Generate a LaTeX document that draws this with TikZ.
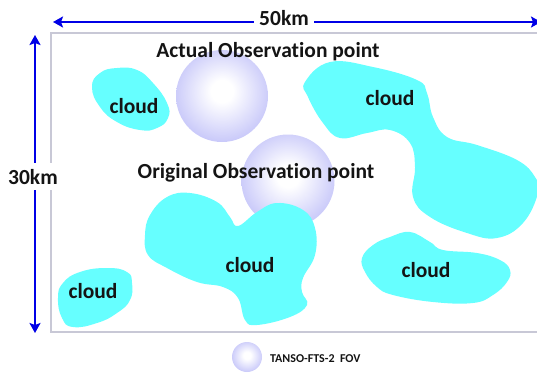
\documentclass[tikz,border=0pt]{standalone}
\usepackage{fontspec}
\setmainfont{Carlito}[Ligatures=NoCommon]
\usepackage{xcolor}
\usetikzlibrary{
    positioning,
    arrows.meta,
}
\definecolor{cloudcyan}{RGB}{102,255,255}
\definecolor{fovmid}{RGB}{186,186,248}
\definecolor{fovedge}{RGB}{150,150,236}
\definecolor{dimblue}{RGB}{0,0,230}
\definecolor{framegray}{RGB}{200,200,214}
\definecolor{labeltext}{RGB}{20,20,20}
\pgfdeclareradialshading{fovball}{\pgfpoint{0bp}{3bp}}{color(0bp)=(white); color(6bp)=(white); color(32bp)=(fovmid); color(50bp)=(fovedge)}
\tikzset{
    % Field of view spheres
    fov/.style={circle, inner sep=0pt, shading=fovball},
    % Cloud patches
    cloud patch/.style={fill=cloudcyan, draw=none},
    % Labels
    tag/.style={font=\bfseries\fontsize{21.5}{24}\selectfont, text=labeltext, inner sep=1pt},
    small tag/.style={font=\bfseries\fontsize{12}{14}\selectfont, text=labeltext, inner sep=0pt},
    % Dimension arrows
    dim arrow/.style={{Stealth[length=10pt, width=11pt, inset=2pt]}-{Stealth[length=10pt, width=11pt, inset=2pt]},
                      line width=2.5pt, dimblue},
    frame/.style={draw=framegray, line width=1.5pt},
}

\begin{document}
\begin{tikzpicture}[x=1pt, y=-1pt]
    \useasboundingbox (0,0) rectangle (537,373);
    \clip (0,0) rectangle (537,373);

    % Observation area
    \coordinate (area nw) at (51,33);
    \coordinate (area se) at (545,332);
    \draw[frame] (area nw) rectangle (area se);

    % Footprints
    \node[fov, minimum size=92pt] (actual) at (222,96) {};
    \node[fov, minimum size=93pt] (original) at (288,181) {};

    % Clouds
    \fill[cloud patch] plot[smooth cycle, tension=0.8] coordinates {
        (92,87) (100,73) (117,68) (137,70) (153,83) (167,103)
        (168,118) (157,128) (140,130) (117,122) (100,107)};
    \fill[cloud patch] plot[smooth cycle, tension=0.7] coordinates {
        (305,82) (330,62) (373,67) (417,80) (427,93) (433,117)
        (447,137) (477,145) (517,160) (535,177) (538,193) (523,223)
        (497,238) (467,233) (430,217) (413,197) (415,167) (410,143)
        (390,130) (367,133) (340,138) (323,123) (308,97)};
    \fill[cloud patch] plot[smooth cycle, tension=0.7] coordinates {
        (145,235) (150,215) (167,197) (190,193) (217,202) (230,217)
        (238,226) (257,212) (277,203) (303,210) (315,228) (315,255)
        (303,278) (302,292) (307,305) (290,317) (257,325) (245,320)
        (238,298) (223,287) (197,282) (167,268) (148,255)};
    \fill[cloud patch] plot[smooth cycle, tension=0.7] coordinates {
        (362,258) (373,245) (390,237) (410,232) (430,242) (443,250)
        (477,253) (500,260) (510,270) (507,282) (493,295) (473,303)
        (433,302) (393,295) (377,287) (365,272)};
    \fill[cloud patch] plot[smooth cycle, tension=0.8] coordinates {
        (58,298) (63,283) (80,272) (107,268) (127,272) (132,283)
        (130,300) (117,313) (97,323) (73,327) (62,318)};

    % Cloud labels
    \node[tag, anchor=base] (cloud a) at (134,113) {cloud};
    \node[tag, anchor=base] (cloud b) at (390,105) {cloud};
    \node[tag, anchor=base] (cloud c) at (250,272) {cloud};
    \node[tag, anchor=base] (cloud d) at (426,277) {cloud};
    \node[tag, anchor=base] (cloud e) at (93,298) {cloud};

    % Footprint labels
    \node[tag, anchor=base] (actual label) at (268,57) {Actual Observation point};
    \node[tag, anchor=base] (original label) at (256,178) {Original Observation point};

    % Dimensions
    \coordinate (width west) at (53,22);
    \coordinate (width east) at (541,22);
    \coordinate (height north) at (35,35);
    \coordinate (height south) at (35,333);
    \draw[dim arrow] (width west) -- (width east);
    \draw[dim arrow] (height north) -- (height south);
    \node[tag, anchor=base, fill=white, inner xsep=5pt, inner ysep=3pt] (width label) at (284,25) {50km};
    \node[tag, anchor=base, fill=white, inner xsep=2pt, inner ysep=6pt] (height label) at (33,184) {30km};

    % Legend
    \node[fov, minimum size=30pt] (legend ball) at (247,357) {};
    \node[small tag, anchor=base west] (legend label) at (270,362) {TANSO-FTS-2\ \ FOV};
\end{tikzpicture}
\end{document}
